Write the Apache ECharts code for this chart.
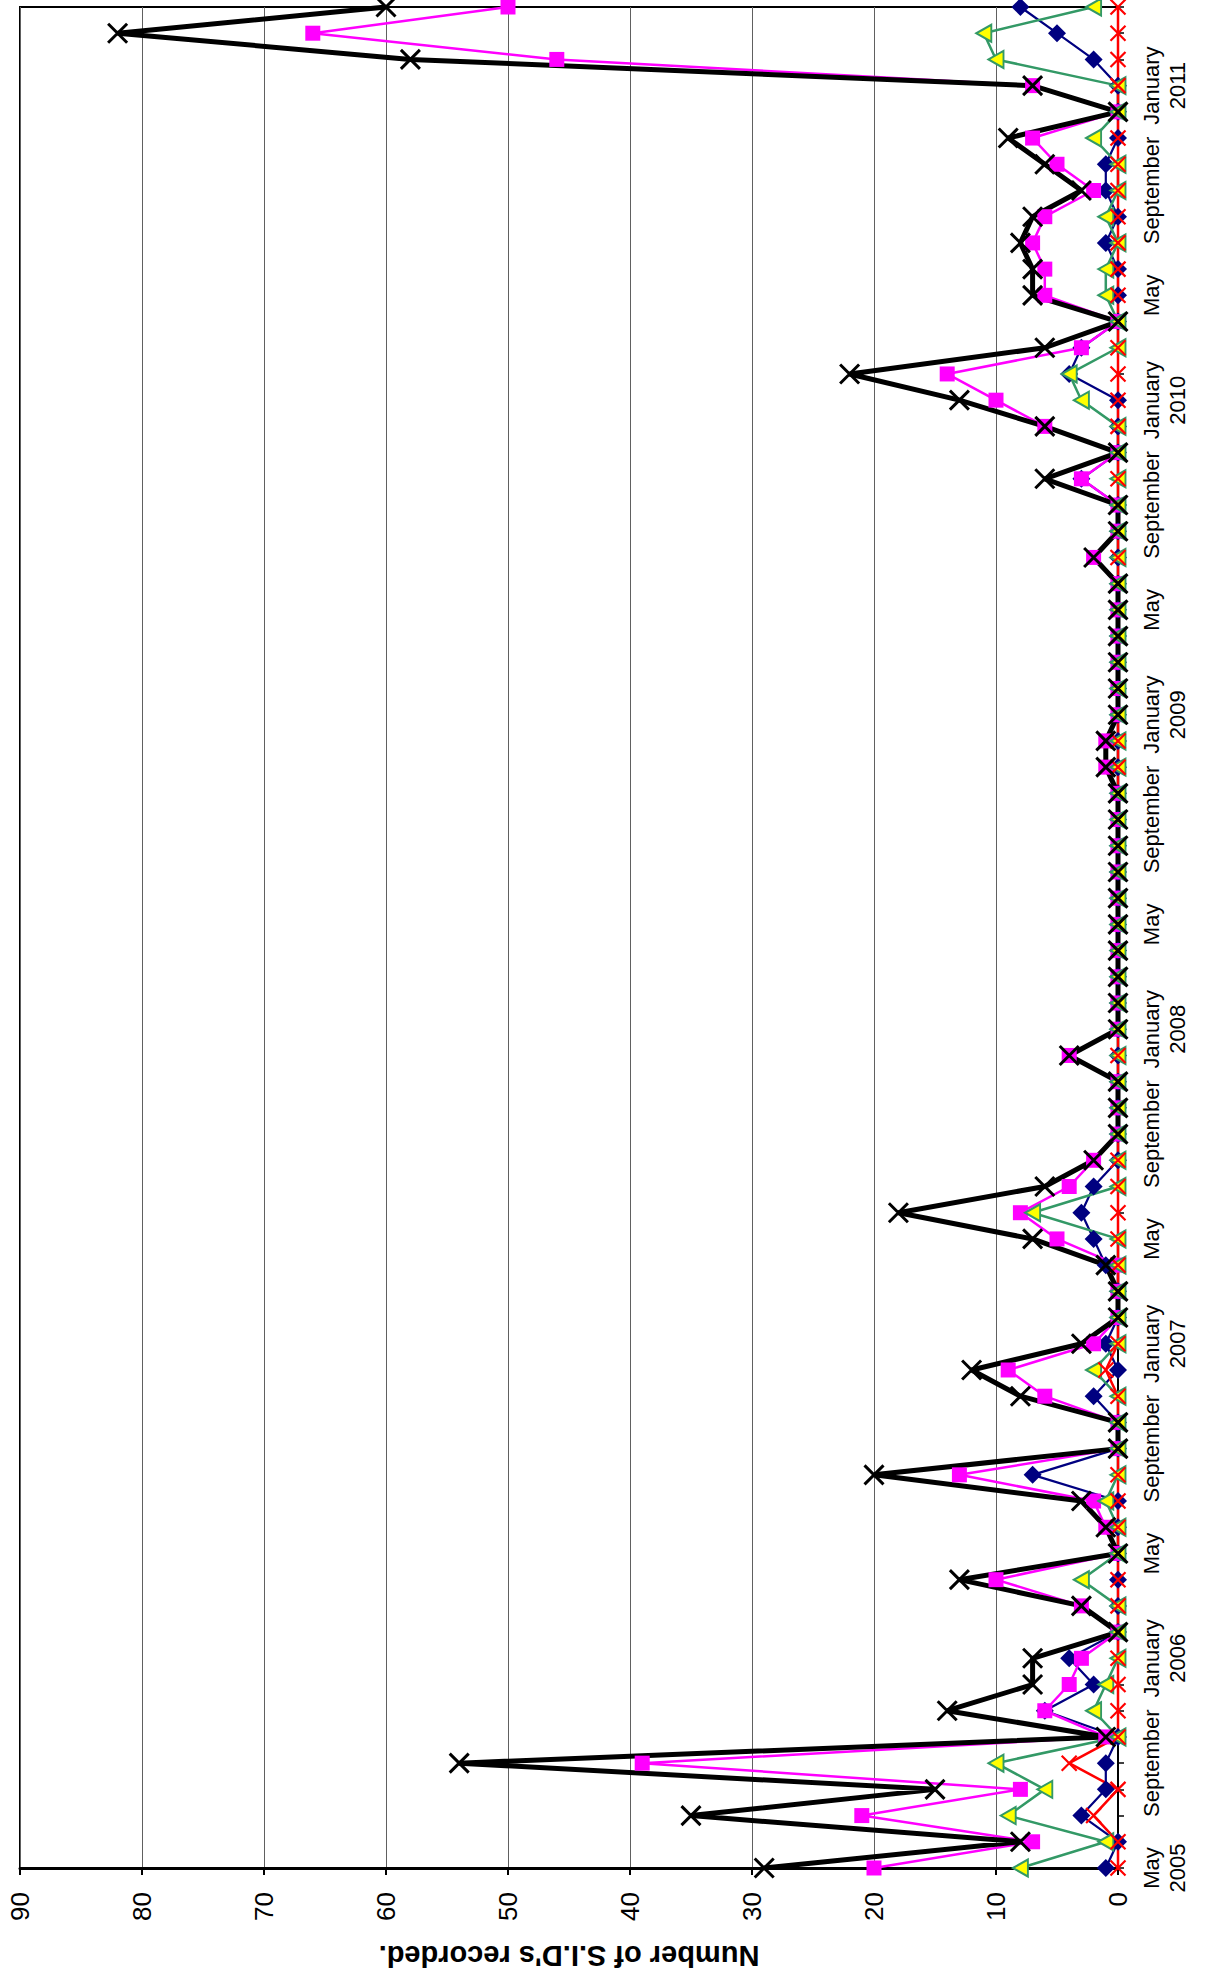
<!DOCTYPE html>
<html>
<head>
<meta charset="utf-8">
<title>S.I.D's recorded</title>
<script src="https://cdn.jsdelivr.net/npm/echarts@6/dist/echarts.min.js"></script>
<style>
  html, body { margin: 0; padding: 0; background: #ffffff; }
  #chart { width: 1213px; height: 1977px; }
</style>
</head>
<body>
<div id="chart"></div>
<script>
// Category (month) labels, May 2005 .. April 2011
const categories = [
  "May\n2005", "June", "July", "August", "September", "October", "November", "December",
  "January\n2006", "February", "March", "April", "May", "June", "July", "August", "September", "October", "November", "December",
  "January\n2007", "February", "March", "April", "May", "June", "July", "August", "September", "October", "November", "December",
  "January\n2008", "February", "March", "April", "May", "June", "July", "August", "September", "October", "November", "December",
  "January\n2009", "February", "March", "April", "May", "June", "July", "August", "September", "October", "November", "December",
  "January\n2010", "February", "March", "April", "May", "June", "July", "August", "September", "October", "November", "December",
  "January\n2011", "February", "March", "April"
];

// Value axis tick values
const valueTicks = { min: 0, max: 90, step: 10 };

// Series values (one value per month)
const totalValues = [29, 8, 35, 15, 54, 1, 14, 7, 7, 0,
  3, 13, 0, 1, 3, 20, 0, 0, 8, 12,
  3, 0, 0, 1, 7, 18, 6, 2, 0, 0,
  0, 4, 0, 0, 0, 0, 0, 0, 0, 0,
  0, 0, 1, 1, 0, 0, 0, 0, 0, 0,
  2, 0, 0, 6, 0, 6, 13, 22, 6, 0,
  7, 7, 8, 7, 3, 6, 9, 0, 7, 58,
  82, 60];

const magentaValues = [20, 7, 21, 8, 39, 1, 6, 4, 3, 0,
  3, 10, 0, 1, 2, 13, 0, 0, 6, 9,
  2, 0, 0, 0, 5, 8, 4, 2, 0, 0,
  0, 4, 0, 0, 0, 0, 0, 0, 0, 0,
  0, 0, 1, 1, 0, 0, 0, 0, 0, 0,
  2, 0, 0, 3, 0, 6, 10, 14, 3, 0,
  6, 6, 7, 6, 2, 5, 7, 0, 7, 46,
  66, 50];

const greenValues = [8, 1, 9, 6, 10, 0, 2, 1, 0, 0,
  0, 3, 0, 0, 1, 0, 0, 0, 0, 2,
  0, 0, 0, 0, 0, 7, 0, 0, 0, 0,
  0, 0, 0, 0, 0, 0, 0, 0, 0, 0,
  0, 0, 0, 0, 0, 0, 0, 0, 0, 0,
  0, 0, 0, 0, 0, 0, 3, 4, 0, 0,
  1, 1, 0, 1, 0, 0, 2, 0, 0, 10,
  11, 2];

const navyValues = [1, 0, 3, 1, 1, 0, 6, 2, 4, 0,
  0, 0, 0, 0, 0, 7, 0, 0, 2, 0,
  1, 0, 0, 1, 2, 3, 2, 0, 0, 0,
  0, 0, 0, 0, 0, 0, 0, 0, 0, 0,
  0, 0, 0, 0, 0, 0, 0, 0, 0, 0,
  0, 0, 0, 3, 0, 0, 0, 4, 3, 0,
  0, 0, 1, 0, 1, 1, 0, 0, 0, 2,
  5, 8];

const redValues = [0, 0, 2, 0, 4, 0, 0, 0, 0, 0,
  0, 0, 0, 0, 0, 0, 0, 0, 0, 1,
  0, 0, 0, 0, 0, 0, 0, 0, 0, 0,
  0, 0, 0, 0, 0, 0, 0, 0, 0, 0,
  0, 0, 0, 0, 0, 0, 0, 0, 0, 0,
  0, 0, 0, 0, 0, 0, 0, 0, 0, 0,
  0, 0, 0, 0, 0, 0, 0, 0, 0, 0,
  0, 0];

const axisName = "Number of S.I.D's recorded.";

const X_PATH = 'path://M0,0L10,10M10,0L0,10';
const FONT = "'Liberation Sans', Arial, sans-serif";

const chart = echarts.init(document.getElementById('chart'), null, { renderer: 'svg' });

function lineSeries(name, data, lineColor, lineWidth, symbol, symbolSize, itemStyle, extra) {
  return Object.assign({
    name: name,
    type: 'line',
    data: data,
    symbol: symbol,
    symbolSize: symbolSize,
    showAllSymbol: true,
    clip: false,
    lineStyle: { color: lineColor, width: lineWidth },
    itemStyle: itemStyle,
    emphasis: { disabled: true },
    silent: true
  }, extra || {});
}

const option = {
  animation: false,
  backgroundColor: '#ffffff',
  textStyle: { fontFamily: FONT },
  grid: {
    left: 20, right: 95, top: 7, bottom: 109,
    show: true, borderColor: '#000', borderWidth: 2,
    containLabel: false, outerBoundsMode: 'none'
  },
  xAxis: {
    type: 'value',
    min: valueTicks.min, max: valueTicks.max, interval: valueTicks.step,
    inverse: true,
    position: 'bottom',
    axisLine: { show: true, onZero: false, lineStyle: { color: '#000', width: 3 } },
    axisTick: { show: true, length: 7, lineStyle: { color: '#000', width: 2 } },
    axisLabel: { rotate: 90, margin: 24, fontSize: 26, color: '#000', fontFamily: FONT },
    splitLine: { show: true, lineStyle: { color: '#606060', width: 1 } },
    name: axisName,
    nameLocation: 'middle',
    nameRotate: 180,
    nameGap: 73,
    nameTextStyle: { fontSize: 29, fontWeight: 'bold', color: '#000', fontFamily: FONT }
  },
  yAxis: {
    type: 'category',
    data: categories,
    boundaryGap: false,
    position: 'right',
    axisLine: { show: true, onZero: false, lineStyle: { color: '#000', width: 2 } },
    axisTick: { show: true, interval: 0, length: 6, lineStyle: { color: '#000', width: 1.5 } },
    axisLabel: {
      interval: 3, rotate: 90, margin: 20, fontSize: 22, lineHeight: 26,
      color: '#000', fontFamily: FONT
    },
    splitLine: { show: false }
  },
  series: [
    lineSeries('Navy', navyValues, '#000080', 2.2, 'diamond', 18,
      { color: '#000080' }),
    lineSeries('Magenta', magentaValues, '#FF00FF', 2.5, 'rect', 15,
      { color: '#FF00FF' }),
    lineSeries('Green', greenValues, '#339966', 2.5, 'triangle', [17, 15],
      { color: '#FFFF00', borderColor: '#339966', borderWidth: 2 }, { symbolRotate: 90 }),
    lineSeries('Red', redValues, '#FF0000', 2.5, X_PATH, 15,
      { color: 'rgba(0,0,0,0)', borderColor: '#FF0000', borderWidth: 2.2 }),
    lineSeries('Total', totalValues, '#000000', 5, X_PATH, 19,
      { color: 'rgba(0,0,0,0)', borderColor: '#000000', borderWidth: 3 })
  ]
};

chart.setOption(option);
</script>
</body>
</html>
